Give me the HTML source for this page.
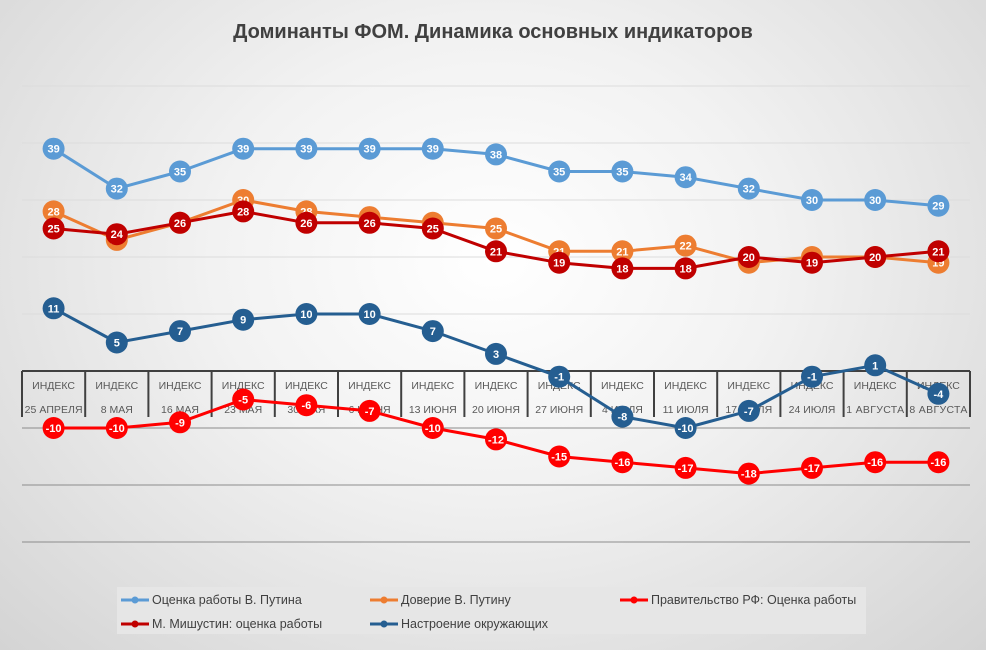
<!DOCTYPE html>
<html><head><meta charset="utf-8"><style>
html,body{margin:0;padding:0;}
body{width:986px;height:650px;overflow:hidden;font-family:"Liberation Sans",sans-serif;}
#wrap{position:relative;width:986px;height:650px;background:radial-gradient(ellipse at 50% 40%,#ffffff 0%,#f2f2f2 40%,#d4d4d4 100%);}
</style></head><body>
<div id="wrap">
<svg id="chart" width="986" height="650"></svg>
</div>
<script>
const categories=["25 АПРЕЛЯ","8 МАЯ","16 МАЯ","23 МАЯ","30 МАЯ","6 ИЮНЯ","13 ИЮНЯ","20 ИЮНЯ","27 ИЮНЯ","4 ИЮЛЯ","11 ИЮЛЯ","17 ИЮЛЯ","24 ИЮЛЯ","1 АВГУСТА","8 АВГУСТА"];
const putinRating=[39,32,35,39,39,39,39,38,35,35,34,32,30,30,29];
const putinTrust=[28,23,26,30,28,27,26,25,21,21,22,19,20,20,19];
const government=[-10,-10,-9,-5,-6,-7,-10,-12,-15,-16,-17,-18,-17,-16,-16];
const mishustin=[25,24,26,28,26,26,25,21,19,18,18,20,19,20,21];
const mood=[11,5,7,9,10,10,7,3,-1,-8,-10,-7,-1,1,-4];
const gridValues=[50,40,30,20,10,-10,-20,-30];
const seriesNames=["Оценка работы В. Путина","Доверие В. Путину","Правительство РФ: Оценка работы","М. Мишустин: оценка работы","Настроение окружающих"];

const NS="http://www.w3.org/2000/svg";
const svg=document.getElementById('chart');
const x0=22,x1=970,n=categories.length,cw=(x1-x0)/n;
const xs=i=>x0+cw*(i+0.5);
const ys=v=>371-v*5.7;
function el(t,a,p){const e=document.createElementNS(NS,t);for(const k in a)e.setAttribute(k,a[k]);(p||svg).appendChild(e);return e;}

const title=el('text',{x:493,y:38,'text-anchor':'middle','font-size':20,'font-weight':'bold',fill:'#404040'});
title.textContent="Доминанты ФОМ. Динамика основных индикаторов";



gridValues.forEach(v=>{
  const g=el('line',{x1:x0,x2:x1,y1:ys(v),y2:ys(v),stroke:v<0?'#8c8c8c':'#dcdcdc','stroke-width':1});
  
  
});
const ax=el('line',{x1:x0,x2:x1,y1:371,y2:371,stroke:'#404040','stroke-width':2});


for(let i=0;i<=n;i++){
  const s=el('line',{x1:x0+cw*i,x2:x0+cw*i,y1:371,y2:417,stroke:'#404040','stroke-width':2});
  
  
}
categories.forEach((c,i)=>{
  const t1=el('text',{x:xs(i),y:389,'text-anchor':'middle','font-size':10.5,fill:'#595959'});
  t1.textContent="ИНДЕКС";
  
  
  const t2=el('text',{x:xs(i),y:413,'text-anchor':'middle','font-size':10.5,fill:'#595959','textLength':c.length>8?58:null});
  if(c.length<=8)t2.removeAttribute('textLength');
  t2.textContent=c;
  
  
});

const series=[[putinRating,'#5b9bd5'],[putinTrust,'#ed7d31'],[government,'#ff0000'],[mishustin,'#c00000'],[mood,'#255e91']];
series.forEach(([data,col],si)=>{
  const g=el('g',{});
  
  
  const pl=el('polyline',{points:data.map((v,i)=>xs(i)+','+ys(v)).join(' '),fill:'none',stroke:col,'stroke-width':3,'stroke-linejoin':'round'},g);
  
  
  data.forEach((v,i)=>{
    const c=el('circle',{cx:xs(i),cy:ys(v),r:11,fill:col},g);
    
    
    const t=el('text',{x:xs(i),y:ys(v)+4,'text-anchor':'middle','font-size':11,'font-weight':'bold',fill:'#fff'},g);
    t.textContent=v;
    
    
  });
});

const lg=el('g',{});


el('rect',{x:117,y:587,width:749,height:47,fill:'#e6e6e6'},lg);
const lpos=[[121,600],[370,600],[620,600],[121,624],[370,624]];
series.forEach(([d,col],i)=>{
  const [lx,ly]=lpos[i];
  const e=el('g',{},lg);
  
  
  el('line',{x1:lx,x2:lx+28,y1:ly,y2:ly,stroke:col,'stroke-width':3},e);
  el('circle',{cx:lx+14,cy:ly,r:3.5,fill:col},e);
  const t=el('text',{x:lx+31,y:ly+4,'font-size':12.5,fill:'#404040'},e);
  t.textContent=seriesNames[i];
});
</script>
</body></html>
